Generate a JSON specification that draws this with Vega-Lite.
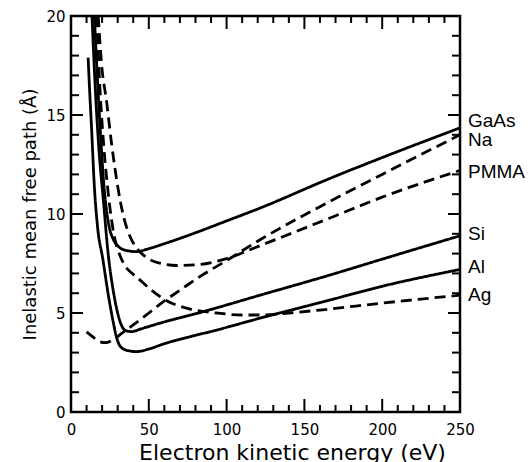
{
  "$schema": "https://vega.github.io/schema/vega-lite/v6.json",
  "width": 389,
  "height": 396,
  "autosize": "none",
  "padding": {"left": 71, "top": 16, "right": 71, "bottom": 50},
  "background": "white",
  "config": {
    "view": {"stroke": "black", "strokeWidth": 2.5},
    "axis": {
      "domain": false,
      "ticks": false,
      "grid": false,
      "labelFont": "DejaVu Sans",
      "labelFontSize": 15,
      "labelColor": "black",
      "labelFlush": false,
      "labelOverlap": false,
      "titleFont": "DejaVu Sans",
      "titleFontWeight": "normal",
      "titleColor": "black"
    }
  },
  "datasets": {
    "curves": [
      {"material": "GaAs", "E": 15, "L": 20},
      {"material": "GaAs", "E": 17, "L": 16.8},
      {"material": "GaAs", "E": 19, "L": 14.0},
      {"material": "GaAs", "E": 21, "L": 11.6},
      {"material": "GaAs", "E": 23, "L": 10.1},
      {"material": "GaAs", "E": 25, "L": 9.2},
      {"material": "GaAs", "E": 27, "L": 8.75},
      {"material": "GaAs", "E": 30, "L": 8.4},
      {"material": "GaAs", "E": 35, "L": 8.17},
      {"material": "GaAs", "E": 42, "L": 8.1},
      {"material": "GaAs", "E": 50, "L": 8.25},
      {"material": "GaAs", "E": 60, "L": 8.5},
      {"material": "GaAs", "E": 76.5, "L": 8.95},
      {"material": "GaAs", "E": 100, "L": 9.65},
      {"material": "GaAs", "E": 121.5, "L": 10.3},
      {"material": "GaAs", "E": 166.5, "L": 11.8},
      {"material": "GaAs", "E": 200, "L": 12.85},
      {"material": "GaAs", "E": 250, "L": 14.35},

      {"material": "Na", "E": 10, "L": 4.05},
      {"material": "Na", "E": 14, "L": 3.8},
      {"material": "Na", "E": 18.6, "L": 3.55},
      {"material": "Na", "E": 22, "L": 3.5},
      {"material": "Na", "E": 27, "L": 3.65},
      {"material": "Na", "E": 33, "L": 4.0},
      {"material": "Na", "E": 40, "L": 4.4},
      {"material": "Na", "E": 50, "L": 5.0},
      {"material": "Na", "E": 59, "L": 5.55},
      {"material": "Na", "E": 70, "L": 6.15},
      {"material": "Na", "E": 83, "L": 6.85},
      {"material": "Na", "E": 100, "L": 7.65},
      {"material": "Na", "E": 121.5, "L": 8.7},
      {"material": "Na", "E": 160, "L": 10.37},
      {"material": "Na", "E": 200, "L": 12.0},
      {"material": "Na", "E": 250, "L": 14.0},

      {"material": "PMMA", "E": 17.5, "L": 20},
      {"material": "PMMA", "E": 19.5, "L": 17.7},
      {"material": "PMMA", "E": 23, "L": 15.6},
      {"material": "PMMA", "E": 26, "L": 13.6},
      {"material": "PMMA", "E": 30, "L": 11.4},
      {"material": "PMMA", "E": 34, "L": 9.8},
      {"material": "PMMA", "E": 38, "L": 8.85},
      {"material": "PMMA", "E": 42, "L": 8.3},
      {"material": "PMMA", "E": 48.6, "L": 7.8},
      {"material": "PMMA", "E": 58, "L": 7.5},
      {"material": "PMMA", "E": 68, "L": 7.4},
      {"material": "PMMA", "E": 83, "L": 7.45},
      {"material": "PMMA", "E": 100, "L": 7.75},
      {"material": "PMMA", "E": 121.5, "L": 8.4},
      {"material": "PMMA", "E": 166.5, "L": 9.8},
      {"material": "PMMA", "E": 200, "L": 10.85},
      {"material": "PMMA", "E": 250, "L": 12.2},

      {"material": "Si", "E": 13.5, "L": 20},
      {"material": "Si", "E": 15.5, "L": 16.5},
      {"material": "Si", "E": 18, "L": 13.2},
      {"material": "Si", "E": 20.8, "L": 10.7},
      {"material": "Si", "E": 24, "L": 7.9},
      {"material": "Si", "E": 27, "L": 6.2},
      {"material": "Si", "E": 30, "L": 5.0},
      {"material": "Si", "E": 32.6, "L": 4.35},
      {"material": "Si", "E": 35, "L": 4.12},
      {"material": "Si", "E": 39, "L": 4.06},
      {"material": "Si", "E": 45, "L": 4.2},
      {"material": "Si", "E": 60, "L": 4.55},
      {"material": "Si", "E": 85, "L": 5.07},
      {"material": "Si", "E": 121.5, "L": 5.9},
      {"material": "Si", "E": 166.5, "L": 6.92},
      {"material": "Si", "E": 200, "L": 7.72},
      {"material": "Si", "E": 250, "L": 8.9},

      {"material": "Al", "E": 11, "L": 17.9},
      {"material": "Al", "E": 12, "L": 16.2},
      {"material": "Al", "E": 13.3, "L": 14.2},
      {"material": "Al", "E": 15, "L": 11.4},
      {"material": "Al", "E": 17, "L": 9.4},
      {"material": "Al", "E": 20.5, "L": 7.7},
      {"material": "Al", "E": 24, "L": 5.9},
      {"material": "Al", "E": 27, "L": 4.6},
      {"material": "Al", "E": 29, "L": 3.85},
      {"material": "Al", "E": 31, "L": 3.4},
      {"material": "Al", "E": 34, "L": 3.17},
      {"material": "Al", "E": 38, "L": 3.08},
      {"material": "Al", "E": 42, "L": 3.05},
      {"material": "Al", "E": 50, "L": 3.18},
      {"material": "Al", "E": 60, "L": 3.45},
      {"material": "Al", "E": 76.5, "L": 3.8},
      {"material": "Al", "E": 93.6, "L": 4.14},
      {"material": "Al", "E": 121.5, "L": 4.74},
      {"material": "Al", "E": 166.5, "L": 5.66},
      {"material": "Al", "E": 200, "L": 6.35},
      {"material": "Al", "E": 250, "L": 7.2},

      {"material": "Ag", "E": 16.5, "L": 20},
      {"material": "Ag", "E": 18.5, "L": 16.5},
      {"material": "Ag", "E": 21, "L": 13.5},
      {"material": "Ag", "E": 24, "L": 11.0},
      {"material": "Ag", "E": 27.5, "L": 9.0},
      {"material": "Ag", "E": 31.5, "L": 7.9},
      {"material": "Ag", "E": 35, "L": 7.35},
      {"material": "Ag", "E": 40, "L": 6.95},
      {"material": "Ag", "E": 46, "L": 6.55},
      {"material": "Ag", "E": 51, "L": 6.2},
      {"material": "Ag", "E": 61.5, "L": 5.62},
      {"material": "Ag", "E": 76.5, "L": 5.2},
      {"material": "Ag", "E": 93.6, "L": 5.0},
      {"material": "Ag", "E": 110, "L": 4.9},
      {"material": "Ag", "E": 121.5, "L": 4.9},
      {"material": "Ag", "E": 140, "L": 5.0},
      {"material": "Ag", "E": 160, "L": 5.15},
      {"material": "Ag", "E": 200, "L": 5.5},
      {"material": "Ag", "E": 250, "L": 5.9}
    ],
    "labels": [
      {"material": "GaAs", "E": 250, "L": 14.72},
      {"material": "Na", "E": 250, "L": 13.74},
      {"material": "PMMA", "E": 250, "L": 12.14},
      {"material": "Si", "E": 250, "L": 9.0},
      {"material": "Al", "E": 250, "L": 7.32},
      {"material": "Ag", "E": 250, "L": 5.9}
    ],
    "xticks": [
      {"E": 10, "major": false}, {"E": 20, "major": false}, {"E": 30, "major": false}, {"E": 40, "major": false},
      {"E": 50, "major": true},
      {"E": 60, "major": false}, {"E": 70, "major": false}, {"E": 80, "major": false}, {"E": 90, "major": false},
      {"E": 100, "major": true},
      {"E": 110, "major": false}, {"E": 120, "major": false}, {"E": 130, "major": false}, {"E": 140, "major": false},
      {"E": 150, "major": true},
      {"E": 160, "major": false}, {"E": 170, "major": false}, {"E": 180, "major": false}, {"E": 190, "major": false},
      {"E": 200, "major": true},
      {"E": 210, "major": false}, {"E": 220, "major": false}, {"E": 230, "major": false}, {"E": 240, "major": false}
    ],
    "yticks": [
      {"L": 1, "major": false}, {"L": 2, "major": false}, {"L": 3, "major": false}, {"L": 4, "major": false},
      {"L": 5, "major": true},
      {"L": 6, "major": false}, {"L": 7, "major": false}, {"L": 8, "major": false}, {"L": 9, "major": false},
      {"L": 10, "major": true},
      {"L": 11, "major": false}, {"L": 12, "major": false}, {"L": 13, "major": false}, {"L": 14, "major": false},
      {"L": 15, "major": true},
      {"L": 16, "major": false}, {"L": 17, "major": false}, {"L": 18, "major": false}, {"L": 19, "major": false}
    ]
  },
  "layer": [
    {
      "data": {"name": "curves"},
      "mark": {"type": "line", "clip": true, "interpolate": "monotone", "color": "black", "strokeWidth": 2.8},
      "encoding": {
        "x": {
          "field": "E", "type": "quantitative",
          "scale": {"domain": [0, 250], "nice": false, "zero": false},
          "axis": {
            "orient": "bottom", "values": [0, 50, 100, 150, 200, 250],
            "labelPadding": 10,
            "title": "Electron kinetic energy (eV)", "titleFontSize": 22,
            "titlePadding": 5, "titleX": 221
          }
        },
        "y": {
          "field": "L", "type": "quantitative",
          "scale": {"domain": [0, 20], "nice": false},
          "axis": {
            "orient": "left", "values": [0, 5, 10, 15, 20],
            "labelPadding": 6,
            "title": "Inelastic mean free path (Å)", "titleFontSize": 18, "titlePadding": 6
          }
        },
        "detail": {"field": "material"},
        "strokeDash": {
          "field": "material", "type": "nominal", "legend": null,
          "scale": {
            "domain": ["GaAs", "Na", "PMMA", "Si", "Al", "Ag"],
            "range": [[1, 0], [11, 6], [11, 6], [1, 0], [1, 0], [11, 6]]
          }
        }
      }
    },
    {
      "data": {"name": "labels"},
      "mark": {"type": "text", "align": "left", "baseline": "middle", "dx": 8, "font": "Liberation Sans", "fontSize": 19, "color": "black"},
      "encoding": {
        "x": {"field": "E", "type": "quantitative", "axis": null},
        "y": {"field": "L", "type": "quantitative", "axis": null},
        "text": {"field": "material"}
      }
    },
    {
      "data": {"name": "xticks"},
      "transform": [{"filter": "datum.major"}],
      "mark": {"type": "point", "shape": "M0,0L0,-2", "filled": false, "color": "black", "opacity": 1, "strokeWidth": 2, "size": 169},
      "encoding": {
        "x": {"field": "E", "type": "quantitative", "axis": null},
        "y": {"datum": 0, "type": "quantitative", "axis": null}
      }
    },
    {
      "data": {"name": "xticks"},
      "transform": [{"filter": "!datum.major"}],
      "mark": {"type": "point", "shape": "M0,0L0,-2", "filled": false, "color": "black", "opacity": 1, "strokeWidth": 2, "size": 49},
      "encoding": {
        "x": {"field": "E", "type": "quantitative", "axis": null},
        "y": {"datum": 0, "type": "quantitative", "axis": null}
      }
    },
    {
      "data": {"name": "xticks"},
      "transform": [{"filter": "datum.major"}],
      "mark": {"type": "point", "shape": "M0,0L0,2", "filled": false, "color": "black", "opacity": 1, "strokeWidth": 2, "size": 169},
      "encoding": {
        "x": {"field": "E", "type": "quantitative", "axis": null},
        "y": {"datum": 20, "type": "quantitative", "axis": null}
      }
    },
    {
      "data": {"name": "xticks"},
      "transform": [{"filter": "!datum.major"}],
      "mark": {"type": "point", "shape": "M0,0L0,2", "filled": false, "color": "black", "opacity": 1, "strokeWidth": 2, "size": 49},
      "encoding": {
        "x": {"field": "E", "type": "quantitative", "axis": null},
        "y": {"datum": 20, "type": "quantitative", "axis": null}
      }
    },
    {
      "data": {"name": "yticks"},
      "transform": [{"filter": "datum.major"}],
      "mark": {"type": "point", "shape": "M0,0L2,0", "filled": false, "color": "black", "opacity": 1, "strokeWidth": 2, "size": 144},
      "encoding": {
        "y": {"field": "L", "type": "quantitative", "axis": null},
        "x": {"datum": 0, "type": "quantitative", "axis": null}
      }
    },
    {
      "data": {"name": "yticks"},
      "transform": [{"filter": "!datum.major"}],
      "mark": {"type": "point", "shape": "M0,0L2,0", "filled": false, "color": "black", "opacity": 1, "strokeWidth": 2, "size": 64},
      "encoding": {
        "y": {"field": "L", "type": "quantitative", "axis": null},
        "x": {"datum": 0, "type": "quantitative", "axis": null}
      }
    },
    {
      "data": {"name": "yticks"},
      "transform": [{"filter": "datum.major"}],
      "mark": {"type": "point", "shape": "M0,0L-2,0", "filled": false, "color": "black", "opacity": 1, "strokeWidth": 2, "size": 144},
      "encoding": {
        "y": {"field": "L", "type": "quantitative", "axis": null},
        "x": {"datum": 250, "type": "quantitative", "axis": null}
      }
    },
    {
      "data": {"name": "yticks"},
      "transform": [{"filter": "!datum.major"}],
      "mark": {"type": "point", "shape": "M0,0L-2,0", "filled": false, "color": "black", "opacity": 1, "strokeWidth": 2, "size": 64},
      "encoding": {
        "y": {"field": "L", "type": "quantitative", "axis": null},
        "x": {"datum": 250, "type": "quantitative", "axis": null}
      }
    }
  ],
  "resolve": {"axis": {"x": "independent", "y": "independent"}}
}
